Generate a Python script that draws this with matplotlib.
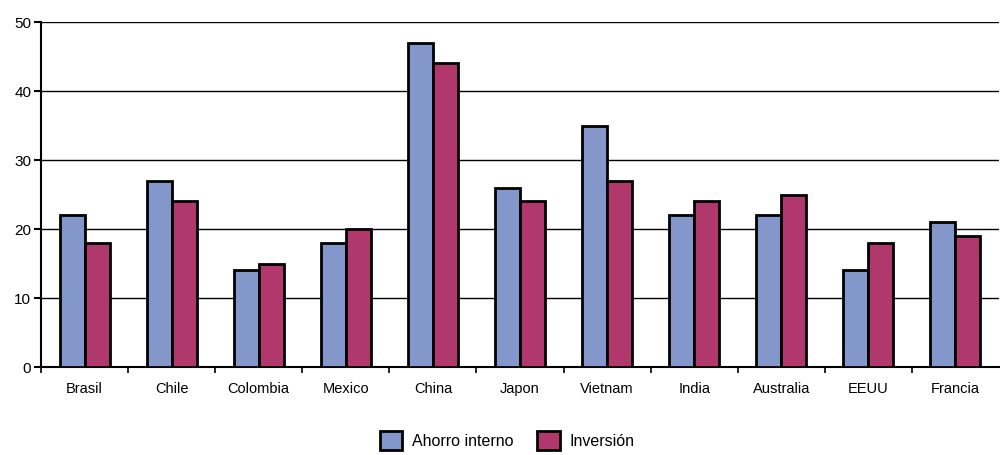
import matplotlib
matplotlib.use("Agg")
import matplotlib.pyplot as plt
import numpy as np
from matplotlib.patches import Patch

paises = ["Brasil", "Chile", "Colombia", "Mexico", "China", "Japon",
          "Vietnam", "India", "Australia", "EEUU", "Francia"]
ahorro = [22, 27, 14, 18, 47, 26, 35, 22, 22, 14, 21]
inversion = [18, 24, 15, 20, 44, 24, 27, 24, 25, 18, 19]

AZUL = "#8497CB"
GRANATE = "#B0386C"

plt.rcParams["font.family"] = ["Liberation Sans", "DejaVu Sans"]

fig = plt.figure(figsize=(10, 4.55), dpi=100)
ax = fig.add_axes([0.041, 0.1934, 0.958, 0.7582])

x = np.arange(len(paises))
w = 0.287
ax.bar(x - w / 2, ahorro, w, color=AZUL, edgecolor="black", linewidth=2, zorder=3)
ax.bar(x + w / 2, inversion, w, color=GRANATE, edgecolor="black", linewidth=2, zorder=3)

ax.set_xlim(-0.5, len(paises) - 0.5)
ax.set_ylim(0, 50)
ax.set_yticks(range(0, 51, 10))
ax.yaxis.grid(True, color="black", linewidth=1, zorder=0)

# ticks go on the category boundaries, labels in the middle
ax.set_xticks(np.arange(len(paises)) - 0.5)
ax.set_xticklabels([])
ax.set_xticks(x, minor=True)
ax.set_xticklabels(paises, minor=True, fontsize=10.5)
ax.tick_params(axis="x", which="minor", length=0, pad=11)
ax.tick_params(axis="x", which="major", length=4, width=1.2, direction="out")
ax.tick_params(axis="y", length=5, width=1.5, labelsize=11, pad=2)

for s in ["top", "right"]:
    ax.spines[s].set_visible(False)
ax.spines["left"].set_linewidth(1.5)
ax.spines["bottom"].set_linewidth(1.5)

handles = [Patch(facecolor=AZUL, edgecolor="black", linewidth=2, label="Ahorro interno"),
           Patch(facecolor=GRANATE, edgecolor="black", linewidth=2, label="Inversión")]
fig.legend(handles=handles, loc="center", bbox_to_anchor=(0.507, 0.032), ncol=2,
           frameon=False, fontsize=11.5, handlelength=1.4, handleheight=1.4,
           handletextpad=0.6, columnspacing=1.5)

fig.savefig("out.png", dpi=100)
